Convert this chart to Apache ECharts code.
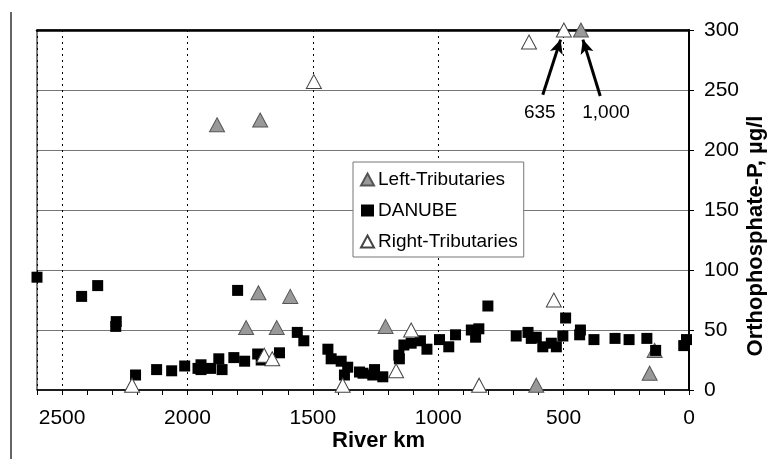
<!DOCTYPE html>
<html>
<head>
<meta charset="utf-8">
<script src="https://cdn.jsdelivr.net/npm/echarts@6/dist/echarts.min.js"></script>
<style>
html,body{margin:0;padding:0;background:#fff;}
#chart{width:767px;height:459px;}
</style>
</head>
<body>
<div id="chart"></div>
<script>
// ---- Data (river km, orthophosphate-P µg/l) ----
var danubeKm = [2600,2422,2358,2284,2286,2207,2123,2063,2011,1958,1946,1946,1908,1875,1862,1815,1800,1772,1720,1706,1633,1562,1536,1440,1427,1387,1361,1374,1314,1300,1254,1261,1221,1157,1155,1137,1108,1071,1045,995,958,931,868,851,838,802,689,642,629,609,583,549,529,503,492,433,436,379,295,239,168,133,21,10];
var danubeP  = [94,78,87,57,53,12.5,17,16,20,18,21,17,18,26,17,27,83,24,30,25,31,48,41,34,26,24,19,12.5,15,14,17,12.5,11,29,26,37.5,39,41,34,42,36,46,50,44,51,70,45,48,43,44,36,39,36,45,60,50,46,42,43,42,43,33,37,42];

var leftKm = [1882,1710,1717,1590,1766,1644,1210,609,157,137,431];
var leftP  = [221,225,81,78,52,52,53,4,14,33,300];   // 431 km plotted at axis top (actual 1,000)

var rightKm = [2221,1496,1694,1662,1381,1108,1168,837,539,638,499];
var rightP  = [4,257,29,26,4,50,16,4,75,290,300];     // 499 km plotted at axis top (actual 635)

// off-scale annotations
var annoText    = ['635','1,000'];
var annoLabelKm = [595,331];
var annoLabelP  = [231,231];
var arrowTailKm = [583,354];
var arrowTailP  = [246,245];
var arrowHeadKm = [512,423];
var arrowHeadP  = [292,292];

var xTicks = [0,500,1000,1500,2000,2500];
var yTicks = [0,50,100,150,200,250,300];

function zip(a,b){ return a.map(function(v,i){ return [v,b[i]]; }); }

var FONT = 'Liberation Sans, Arial, Helvetica, sans-serif';
var chart = echarts.init(document.getElementById('chart'), null, {renderer:'canvas'});

var arrows = arrowTailKm.map(function(k,i){
  return [{coord:[k, arrowTailP[i]]},{coord:[arrowHeadKm[i], arrowHeadP[i]]}];
});
var annoData = annoText.map(function(t,i){ return [annoLabelKm[i], annoLabelP[i], t]; });

chart.setOption({
  animation:false,
  backgroundColor:'#fff',
  textStyle:{fontFamily:FONT},
  graphic:[{type:'line', shape:{x1:11,y1:12,x2:11,y2:459}, style:{stroke:'#333',lineWidth:1.5}}],
  grid:{left:37,right:78,top:30,bottom:69,show:true,borderColor:'#000',borderWidth:1,
        backgroundColor:'transparent',containLabel:false,outerBoundsMode:'none'},
  legend:{
    orient:'vertical', left:353, top:162,
    backgroundColor:'#fff', borderColor:'#777', borderWidth:1,
    padding:[8,6,6,7], itemGap:12, itemWidth:13, itemHeight:12,
    textStyle:{fontSize:19, color:'#000', fontFamily:FONT, padding:[0,0,0,-1]},
    data:['Left-Tributaries','DANUBE','Right-Tributaries']
  },
  xAxis:[{
    type:'value', position:'bottom', min:0, max:2600, interval:100, inverse:true,
    axisLine:{show:true,onZero:false,lineStyle:{color:'#000',width:1.5}},
    axisTick:{show:true,inside:false,length:5,lineStyle:{color:'#000',width:1}},
    axisLabel:{show:true,margin:18,fontSize:21,color:'#000',fontFamily:FONT,
      formatter:function(v){ return xTicks.indexOf(v)>=0 ? String(v) : ''; }},
    splitLine:{show:false},
    name:'River km', nameLocation:'middle', nameGap:40, nameMoveOverlap:false,
    nameTextStyle:{fontSize:22,fontWeight:'bold',color:'#000',fontFamily:FONT,padding:[0,0,0,31]}
  },{
    type:'value', position:'top', min:0, max:2600, interval:500, inverse:true,
    axisLine:{show:true,onZero:false,lineStyle:{color:'#000',width:2.5}},
    axisTick:{show:false}, axisLabel:{show:false},
    splitLine:{show:true,lineStyle:{color:'#000',width:1,type:[2,4]}}
  }],
  yAxis:{
    type:'value', position:'right', min:0, max:300, interval:50,
    axisLine:{show:true,onZero:false,lineStyle:{color:'#000',width:2}},
    axisTick:{show:true,inside:false,length:5,lineStyle:{color:'#000'}},
    axisLabel:{margin:15,fontSize:21,color:'#000',fontFamily:FONT,
      formatter:function(v){ return yTicks.indexOf(v)>=0 ? String(v) : ''; }},
    splitLine:{show:true,lineStyle:{color:'#777',width:1}},
    name:'Orthophosphate-P, µg/l', nameLocation:'middle', nameRotate:90, nameGap:56,
    nameMoveOverlap:false,
    nameTextStyle:{fontSize:22,fontWeight:'bold',color:'#000',fontFamily:FONT,padding:[0,52,0,0]}
  },
  series:[{
    name:'Left-Tributaries', type:'scatter', xAxisIndex:0, symbol:'triangle', symbolSize:[15,14],
    itemStyle:{color:'#999',borderColor:'#555',borderWidth:1,opacity:1},
    data:zip(leftKm,leftP), clip:false
  },{
    name:'DANUBE', type:'scatter', xAxisIndex:0, symbol:'rect', symbolSize:11,
    itemStyle:{color:'#000',opacity:1},
    data:zip(danubeKm,danubeP), clip:false
  },{
    name:'Right-Tributaries', type:'scatter', xAxisIndex:0, symbol:'triangle', symbolSize:[15,14],
    itemStyle:{color:'#fff',borderColor:'#444',borderWidth:1,opacity:1},
    data:zip(rightKm,rightP), clip:false
  },{
    name:'annotations', type:'scatter', xAxisIndex:0, symbol:'circle', symbolSize:0.01,
    itemStyle:{color:'#000'},
    data:annoData, silent:true, z:5,
    label:{show:true,position:'inside',fontSize:19,color:'#000',opacity:1,
      textBorderWidth:0,fontFamily:FONT,
      formatter:function(p){ return p.value[2]; }},
    markLine:{silent:true, symbol:['none','arrow'], symbolSize:[10,14],
      lineStyle:{color:'#000',width:3,type:'solid'}, label:{show:false},
      data:arrows}
  }]
});
</script>
</body>
</html>
